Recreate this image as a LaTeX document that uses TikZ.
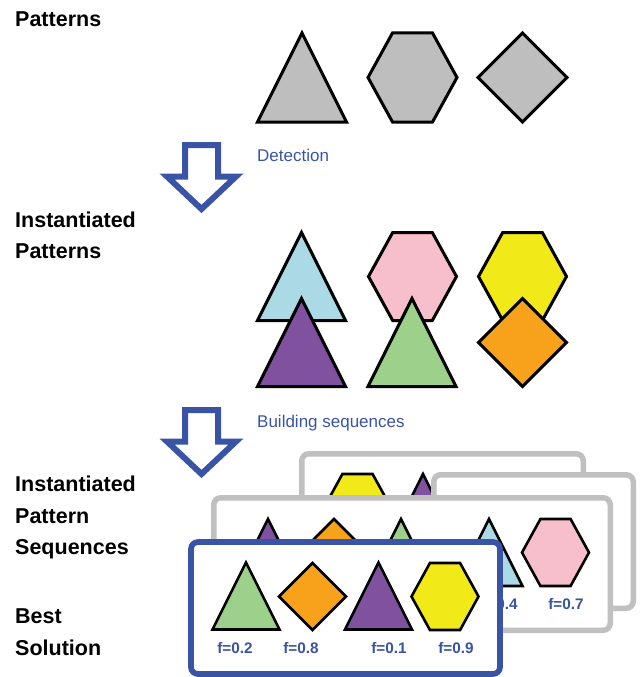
\documentclass[tikz,border=0pt]{standalone}
\usepackage{fontspec}
\setmainfont{Liberation Sans}
\definecolor{pgray}{HTML}{BEBEBE}
\definecolor{lblue}{HTML}{ABD9E6}
\definecolor{ppurple}{HTML}{7F519F}
\definecolor{ppink}{HTML}{F7BFCB}
\definecolor{pgreen}{HTML}{9DD08B}
\definecolor{pyellow}{HTML}{F2EA18}
\definecolor{porange}{HTML}{F8A21C}
\definecolor{navy}{HTML}{3A54A5}
\definecolor{framegray}{HTML}{C0C0C0}
\begin{document}
\begin{tikzpicture}[x=1pt,y=-1pt,
  shapeline/.style={draw=black,line width=3pt,line join=miter},
  arrowline/.style={draw=navy,fill=white,line width=6pt,line join=miter},
  graybox/.style={draw=framegray,fill=white,line width=5.5pt,rounded corners=7pt},
  bestbox/.style={draw=navy,fill=white,line width=5.7pt,rounded corners=7pt},
  rowlabel/.style={anchor=base west,inner sep=0pt,font=\fontsize{21.5}{25}\selectfont\bfseries},
  steplabel/.style={anchor=base west,inner sep=0pt,text=navy,font=\fontsize{17}{20}\selectfont},
  flabel/.style={anchor=base,inner sep=0pt,text=navy,font=\fontsize{15.3}{18}\selectfont\bfseries},
  pics/tri/.style n args={2}{code={\path[shapeline,fill=#1,scale=#2] (0,-1) -- (1,1) -- (-1,1) -- cycle;}},
  pics/hexa/.style n args={2}{code={\path[shapeline,fill=#1,scale=#2] (-1,0) -- (-0.45,-1) -- (0.45,-1) -- (1,0) -- (0.45,1) -- (-0.45,1) -- cycle;}},
  pics/dia/.style n args={2}{code={\path[shapeline,fill=#1,scale=#2] (-1,0) -- (0,-1) -- (1,0) -- (0,1) -- cycle;}},
  pics/blockarrow/.style={code={\path[arrowline] (-16.5,0) -- (16.5,0) -- (16.5,31.5) -- (34.5,31.5) -- (0,64) -- (-34.5,31.5) -- (-16.5,31.5) -- cycle;}}
]
\useasboundingbox (0,0) rectangle (640,677);

% row titles
\node[rowlabel] (tPat)   at (15,27)  {Patterns};
\node[rowlabel] (tInst1) at (15,227) {Instantiated};
\node[rowlabel] (tInst2) at (15,258) {Patterns};
\node[rowlabel] (tSeq1)  at (15,491) {Instantiated};
\node[rowlabel] (tSeq2)  at (15,523) {Pattern};
\node[rowlabel] (tSeq3)  at (15,554) {Sequences};
\node[rowlabel] (tBest1) at (15,623) {Best};
\node[rowlabel] (tBest2) at (15,655) {Solution};

% abstract patterns
\pic at (302,77.5)   {tri={pgray}{44.5}};
\pic at (412.5,77.5) {hexa={pgray}{44.5}};
\pic at (522.5,77.5) {dia={pgray}{44.5}};

% detection step
\pic at (201.5,145) {blockarrow};
\node[steplabel] (sDet) at (257,161) {Detection};

% instantiated patterns
\pic at (301.5,276.5) {tri={lblue}{44}};
\pic at (301.5,342.5) {tri={ppurple}{44}};
\pic at (412.5,276.5) {hexa={ppink}{44}};
\pic at (412,342.5)   {tri={pgreen}{44}};
\pic at (522.5,276.5) {hexa={pyellow}{44}};
\pic at (522.5,342.5) {dia={porange}{44}};

% sequence building step
\pic at (201.5,410) {blockarrow};
\node[steplabel] (sBuild) at (257,427) {Building sequences};

\begin{scope}[shapeline/.style={draw=black,line width=2.6pt,line join=miter}]
  % back sequence
  \draw[graybox] (301.75,453.75) rectangle (583.25,600);
  \pic at (357.5,507.5) {hexa={pyellow}{33.5}};
  \pic at (423,507.5)   {tri={ppurple}{33.5}};
  % middle sequence
  \draw[graybox] (433.75,474.75) rectangle (633.25,608.25);
  % front sequence
  \draw[graybox] (213.75,497.75) rectangle (610.25,630.25);
  \pic at (268,552.5)   {tri={ppurple}{33.5}};
  \pic at (334,552.5)   {dia={porange}{33.5}};
  \pic at (401,552.5)   {tri={pgreen}{33.5}};
  \pic at (489,552.5)   {tri={lblue}{33.5}};
  \pic at (555.5,552.5) {hexa={ppink}{33.5}};
  \node[flabel] (f04) at (500,609) {f=0.4};
  \node[flabel] (f07) at (566,609) {f=0.7};
  % best solution
  \draw[bestbox] (191,542) rectangle (500,674);
  \pic at (246,596)     {tri={pgreen}{33.5}};
  \pic at (312.5,596.5) {dia={porange}{33.5}};
  \pic at (378.5,596)   {tri={ppurple}{33.5}};
  \pic at (445,596.5)   {hexa={pyellow}{33.5}};
  \node[flabel] (f02) at (235,653) {f=0.2};
  \node[flabel] (f08) at (301,653) {f=0.8};
  \node[flabel] (f01) at (389,653) {f=0.1};
  \node[flabel] (f09) at (456,653) {f=0.9};
\end{scope}
\end{tikzpicture}
\end{document}
